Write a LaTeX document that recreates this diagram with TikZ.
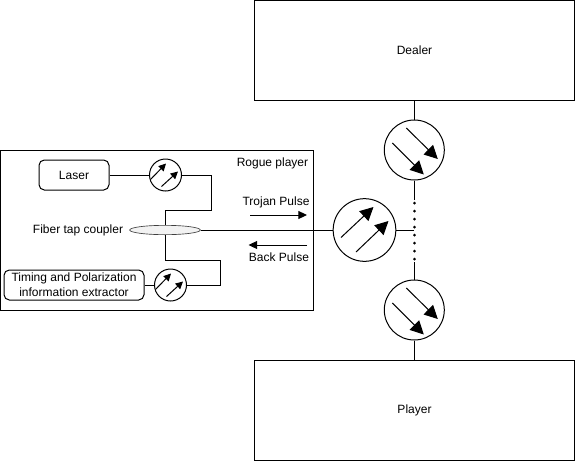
\documentclass[tikz,border=0pt]{standalone}
\usepackage{fontspec}
\setmainfont{Liberation Sans}
\usetikzlibrary{arrows.meta,shapes.geometric}
\tikzset{
  wire/.style={draw=black,line width=0.75pt},
  bigbox/.style={draw=black,line width=0.75pt,inner sep=0,anchor=north west},
  roundbox/.style={draw=black,line width=0.75pt,rounded corners=4pt,inner sep=0,align=center},
  bigwheel/.style={circle,draw=black,line width=0.75pt,inner sep=0,minimum size=45pt,fill=white},
  midwheel/.style={circle,draw=black,line width=0.75pt,inner sep=0,minimum size=47pt,fill=white},
  smallwheel/.style={circle,draw=black,line width=0.75pt,inner sep=0,minimum size=24pt,fill=white},
  bigarrow/.style={line width=0.75pt,-{Triangle[length=10pt,width=10pt]}},
  smallarrow/.style={line width=0.75pt,-{Triangle[length=5.5pt,width=5.5pt]}},
  pulse/.style={line width=0.75pt,-{Triangle[length=6.5pt,width=6pt]}},
  lbl/.style={inner sep=0,font=\fontsize{9}{11}\selectfont,align=center},
  coupler/.style={ellipse,draw=black!75,line width=0.5pt,fill=black!5,inner sep=0,minimum width=53pt,minimum height=7pt}
}
\begin{document}
\begin{tikzpicture}[x=0.75pt,y=-0.75pt]
\useasboundingbox (0,0) rectangle (575,461);
\node[bigbox,minimum width=240pt,minimum height=75pt,font=\fontsize{9}{11}\selectfont] (dealer) at (254,0) {Dealer};
\node[bigbox,minimum width=240pt,minimum height=75pt,font=\fontsize{9}{11}\selectfont] (player) at (254,360.3) {Player};
\node[bigbox,minimum width=234.75pt,minimum height=120pt] (rogue) at (0,150) {};
\node[roundbox,minimum width=52.5pt,minimum height=22.5pt,font=\fontsize{9}{11}\selectfont] (laser) at (74,175) {Laser};
\node[roundbox,minimum width=105pt,minimum height=22.5pt,font=\fontsize{9}{11}\selectfont] (timing) at (74,285) {Timing and Polarization\\information extractor};
\node[coupler] (tap) at (165,230) {};
\node[smallwheel] (s1) at (165.5,175) {};
\node[smallwheel] (s2) at (170.5,285) {};
\node[bigwheel] (top) at (414.3,150) {};
\node[midwheel] (mid) at (364.5,230) {};
\node[bigwheel] (bot) at (414.3,310) {};
\coordinate (junction) at (414.3,230);
\coordinate (dotA) at (414.3,200);
\coordinate (dotB) at (414.3,262);
\draw[wire] (laser.east) -- (s1.west);
\draw[wire] (s1.east) -- (211,175) -- (211,210) -- (165,210) -- (tap.north);
\draw[wire] (tap.south) -- (165,260) -- (220,260) -- (220,285) -- (s2.east);
\draw[wire] (timing.east) -- (s2.west);
\draw[wire] (tap.east) -- (mid.west);
\draw[wire] (mid.east) -- (junction);
\draw[wire] (dealer.south -| top.north) -- (top.north);
\draw[wire] (top.south) -- (dotA);
\draw[wire,line width=1.9pt,line cap=round,dash pattern=on 0.2pt off 5.8pt] (dotA)++(0,3) -- (dotB);
\draw[wire] (dotB) -- (bot.north);
\draw[wire] (bot.south) -- (player.north -| bot.south);
\draw[bigarrow] ([shift={(-8,-22)}]top.center) -- ([shift={(23.5,9)}]top.center);
\draw[bigarrow] ([shift={(-22,-7)}]top.center) -- ([shift={(9.5,24.5)}]top.center);
\draw[bigarrow] ([shift={(-8,-22)}]bot.center) -- ([shift={(23.5,9)}]bot.center);
\draw[bigarrow] ([shift={(-22,-7)}]bot.center) -- ([shift={(9.5,24.5)}]bot.center);
\draw[bigarrow] ([shift={(-23.5,7.5)}]mid.center) -- ([shift={(9,-23)}]mid.center);
\draw[bigarrow] ([shift={(-8.5,22)}]mid.center) -- ([shift={(24,-9)}]mid.center);
\draw[smallarrow] ([shift={(-15,4.5)}]s1.center) -- ([shift={(0.5,-11.5)}]s1.center);
\draw[smallarrow] ([shift={(-4,11.5)}]s1.center) -- ([shift={(12.5,-3.5)}]s1.center);
\draw[smallarrow] ([shift={(-15,4.5)}]s2.center) -- ([shift={(0.5,-11.5)}]s2.center);
\draw[smallarrow] ([shift={(-4,11.5)}]s2.center) -- ([shift={(12.5,-3.5)}]s2.center);
\node[lbl] (roguelbl) at (272.5,163) {Rogue player};
\node[lbl] (trojanlbl) at (276,202.5) {Trojan Pulse};
\node[lbl] (backlbl) at (279,257.5) {Back Pulse};
\node[lbl] (taplbl) at (78,230) {Fiber tap coupler};
\coordinate (t1) at (250,215);
\coordinate (t2) at (307,215);
\coordinate (b1) at (307,245);
\coordinate (b2) at (248.5,245);
\draw[pulse] (t1) -- (t2);
\draw[pulse] (b1) -- (b2);
\end{tikzpicture}
\end{document}
